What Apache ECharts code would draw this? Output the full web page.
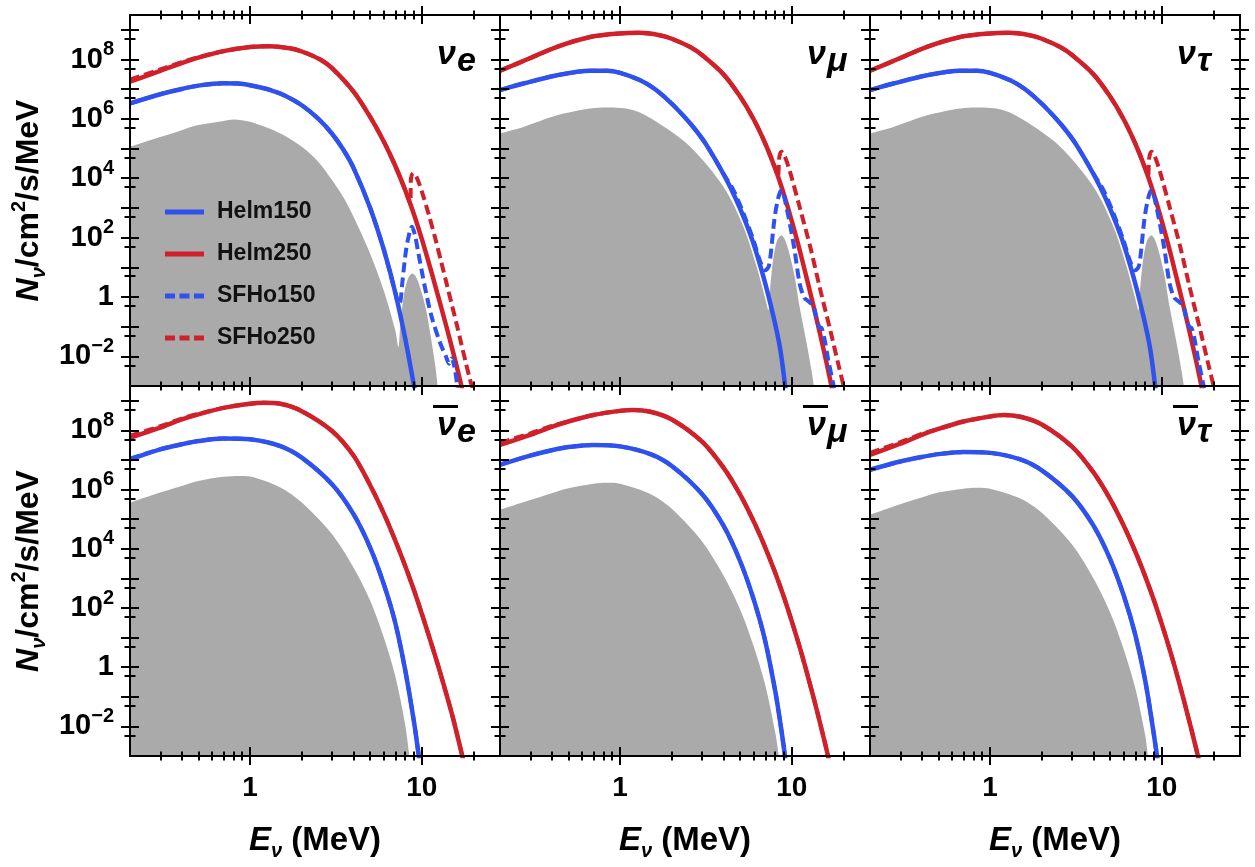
<!DOCTYPE html>
<html>
<head>
<meta charset="utf-8">
<title>neutrino spectra</title>
<script src="https://cdn.jsdelivr.net/npm/echarts@6.0.0/dist/echarts.min.js"></script>
<style>
  html, body { margin: 0; padding: 0; background: #fff; }
  #chart { width: 1255px; height: 867px; }
</style>
</head>
<body>
<div id="chart"></div>
<script>
// values: E in MeV, N in /cm^2/s/MeV

// nu_e
const nueGrayE = [0.2, 0.3, 0.4, 0.5, 0.7, 0.8, 1, 1.5, 2, 2.5, 3, 3.5, 4, 5, 6, 7, 7.3, 7.5, 7.7, 8.0, 8.4, 8.8, 9.2, 9.6, 10.5, 11.2, 12, 12.4]
const nueGray = [1.15e5, 2.45e5, 4.17e5, 6.17e5, 8.51e5, 9.55e5, 7.94e5, 3.24e5, 1.15e5, 3.55e4, 8.71e3, 2.24e3, 501, 28.8, 1.66, 0.0759, 0.0204, 0.126, 0.501, 2.0, 4.79, 6.17, 5.01, 2.82, 0.457, 0.0575, 0.00437, 0.00079]
const nueH150E = [0.2, 0.3, 0.4, 0.5, 0.7, 0.85, 1, 1.3, 1.6, 2, 2.5, 3, 3.5, 4, 5, 6, 7, 8, 9, 9.3]
const nueH150 = [3.31e6, 6.76e6, 1.02e7, 1.32e7, 1.58e7, 1.55e7, 1.35e7, 9.55e6, 6.03e6, 2.88e6, 1.0e6, 3.16e5, 8.91e4, 2.24e4, 1000, 39.8, 1.41, 0.0398, 0.001, 0.000316]
const nueH250E = [0.2, 0.3, 0.4, 0.5, 0.7, 1, 1.3, 1.7, 2, 2.56, 3, 4, 5, 6, 7, 8, 9, 10, 11, 12, 13, 14, 15, 16, 17, 17.5]
const nueH250 = [1.78e7, 4.17e7, 7.59e7, 1.15e8, 1.91e8, 2.63e8, 2.82e8, 2.40e8, 1.86e8, 1.0e8, 5.13e7, 8.32e6, 1.17e6, 1.74e5, 2.63e4, 3.98e3, 603, 89.1, 13.5, 2.24, 0.417, 0.0851, 0.0186, 0.00427, 0.001, 0.0005]
const nueS150E = [0.2, 0.3, 0.4, 0.5, 0.7, 0.85, 1, 1.3, 1.6, 2, 2.5, 3, 3.5, 4, 5, 6, 7, 7.3, 7.5, 7.7, 8.1, 8.5, 8.75, 9.1, 9.55, 10.4, 11.4, 12.8, 13.8, 14.4, 14.9, 15.4, 16.0, 16.3]
const nueS150 = [3.31e6, 6.76e6, 1.02e7, 1.32e7, 1.58e7, 1.55e7, 1.35e7, 9.55e6, 6.03e6, 2.88e6, 1.0e6, 3.16e5, 8.91e4, 2.24e4, 1000, 39.8, 1.41, 0.631, 0.708, 3.16, 39.8, 158, 234, 126, 29.5, 2.24, 0.214, 0.0275, 0.01, 0.00562, 0.00851, 0.00501, 0.00126, 0.0005]
const nueS250E = [0.2, 0.3, 0.4, 0.5, 0.7, 1, 1.3, 1.7, 2, 2.56, 3, 4, 5, 6, 7, 8, 8.55, 8.65, 8.9, 9.3, 10, 11, 12, 13, 14, 15, 16, 17, 18, 19, 20, 20.5]
const nueS250 = [2.09e7, 4.68e7, 8.13e7, 1.20e8, 1.91e8, 2.63e8, 2.82e8, 2.40e8, 1.86e8, 1.0e8, 5.13e7, 8.32e6, 1.17e6, 1.74e5, 2.63e4, 3.98e3, 1.41e3, 1.0e4, 1.48e4, 1.12e4, 3.55e3, 562, 89.1, 14.1, 2.51, 0.501, 0.112, 0.0251, 0.0063, 0.00178, 0.00063, 0.00035]

// nu_mu (the nu_tau panel reads the same)
const numuGrayE = [0.2, 0.274, 0.43, 0.67, 0.84, 1.2, 1.63, 2.56, 4.0, 5.23, 6.25, 7.0, 7.3, 7.5, 7.8, 8.2, 8.7, 9.3, 10.3, 11.1, 12.2, 13.1, 13.5]
const numuGray = [3.24e5, 5.37e5, 1.32e6, 2.24e6, 2.40e6, 1.95e6, 7.94e5, 1.15e5, 5.13e3, 229, 10, 0.891, 0.355, 2.51, 20, 79.4, 120, 63.1, 6.17, 0.457, 0.0269, 0.00263, 0.00079]
const numuH150E = [0.2, 0.274, 0.43, 0.67, 0.84, 1.0, 1.31, 1.6, 2.05, 2.6, 3.2, 4.37, 5.71, 6.84, 7.82, 8.55, 9.14, 9.3]
const numuH150 = [9.33e6, 1.55e7, 2.95e7, 4.17e7, 4.17e7, 3.55e7, 2.0e7, 1.0e7, 2.82e6, 6.31e5, 1.26e5, 5.13e3, 135, 4.68, 0.214, 0.0178, 0.001, 0.000398]
const numuH250E = [0.2, 0.3, 0.43, 0.67, 1, 1.3, 1.7, 2, 2.56, 3, 4, 5, 6, 7, 8, 9, 10, 11, 12, 13, 14, 15, 16, 17, 17.5]
const numuH250 = [4.17e7, 1.12e8, 2.69e8, 5.75e8, 7.59e8, 7.94e8, 6.61e8, 5.01e8, 2.63e8, 1.41e8, 3.16e7, 5.62e6, 9.55e5, 1.48e5, 2.14e4, 2.82e3, 355, 46.8, 6.31, 0.955, 0.158, 0.0282, 0.00525, 0.001, 0.000447]
const numuS150E = [0.2, 0.274, 0.43, 0.67, 0.84, 1.0, 1.31, 1.6, 2.05, 2.6, 3.2, 4.0, 4.57, 5.23, 5.98, 6.54, 6.99, 7.3, 7.5, 7.9, 8.3, 8.7, 9.3, 10.3, 11.1, 11.8, 12.5, 13.3, 13.9, 14.4, 14.9, 15.4, 16.3, 17.5, 17.8]
const numuS150 = [9.33e6, 1.55e7, 2.95e7, 4.17e7, 4.17e7, 3.55e7, 2.0e7, 1.0e7, 2.82e6, 6.31e5, 1.26e5, 1.41e4, 3.98e3, 646, 81.3, 15.8, 7.94, 10, 22.4, 380, 2.0e3, 3.98e3, 1.07e3, 47.9, 2.82, 0.955, 0.708, 0.501, 0.2, 0.1, 0.0891, 0.0447, 0.00741, 0.001, 0.0005]
const numuS250E = [0.2, 0.3, 0.43, 0.67, 1, 1.3, 1.7, 2, 2.56, 3, 4, 5, 6, 7, 8, 8.3, 8.45, 8.7, 9.0, 9.6, 10, 11.1, 12.8, 14.5, 16.7, 18.7, 20, 20.5]
const numuS250 = [4.17e7, 1.12e8, 2.69e8, 5.75e8, 7.59e8, 7.94e8, 6.61e8, 5.01e8, 2.63e8, 1.41e8, 3.16e7, 5.62e6, 9.55e5, 1.48e5, 2.14e4, 1.17e4, 5.01e4, 7.76e4, 6.31e4, 2.24e4, 1.0e4, 1.07e3, 47.9, 2.19, 0.0794, 0.00501, 0.001, 0.0005]

// anti nu_e
const anueGrayE = [0.2, 0.3, 0.4, 0.5, 0.7, 0.87, 1, 1.5, 2, 3, 4, 5, 6, 7, 8, 8.5, 8.7]
const anueGray = [3.63e5, 7.94e5, 1.32e6, 1.95e6, 2.69e6, 2.88e6, 2.75e6, 1.17e6, 3.63e5, 3.09e4, 2.34e3, 178, 10.2, 0.501, 0.0112, 0.00079, 0.000316]
const anueH150E = [0.2, 0.3, 0.4, 0.5, 0.7, 1, 1.5, 2, 3, 4, 5, 6, 7, 8, 9, 9.6, 9.8]
const anueH150 = [1.05e7, 2.29e7, 3.39e7, 4.37e7, 5.37e7, 5.01e7, 2.95e7, 1.20e7, 1.51e6, 1.48e5, 1.10e4, 646, 31.6, 0.794, 0.0141, 0.001, 0.000398]
const anueS150 = [1.12e7, 2.29e7, 3.39e7, 4.37e7, 5.37e7, 5.01e7, 2.95e7, 1.20e7, 1.51e6, 1.48e5, 1.10e4, 646, 31.6, 0.794, 0.0141, 0.001, 0.000398]
const anueH250E = [0.2, 0.3, 0.4, 0.5, 0.7, 1, 1.2, 1.5, 2, 3, 4, 5, 6, 7, 8, 9, 10, 11, 12, 13, 14, 15, 16, 17, 17.5]
const anueH250 = [5.62e7, 1.23e8, 2.34e8, 3.47e8, 5.75e8, 7.94e8, 8.51e8, 7.94e8, 4.47e8, 9.55e7, 1.41e7, 1.41e6, 1.58e5, 1.91e4, 2.63e3, 398, 63.1, 11.2, 2.24, 0.468, 0.105, 0.0251, 0.00562, 0.00132, 0.00063]
const anueS250 = [6.61e7, 1.38e8, 2.51e8, 3.63e8, 5.75e8, 7.94e8, 8.51e8, 7.94e8, 4.47e8, 9.55e7, 1.41e7, 1.41e6, 1.58e5, 1.91e4, 2.63e3, 398, 63.1, 11.2, 2.24, 0.468, 0.105, 0.0251, 0.00562, 0.00132, 0.00063]

// anti nu_mu
const anumuGrayE = [0.2, 0.3, 0.4, 0.5, 0.7, 0.85, 1, 1.5, 2, 3, 4, 5, 6, 7, 8, 8.4, 8.6]
const anumuGray = [2.09e5, 4.47e5, 7.59e5, 1.12e6, 1.58e6, 1.70e6, 1.58e6, 7.08e5, 2.24e5, 1.78e4, 1.26e3, 89.1, 5.01, 0.251, 0.0063, 0.001, 0.000398]
const anumuH150E = [0.2, 0.3, 0.4, 0.5, 0.7, 1, 1.5, 2, 3, 4, 5, 6, 7, 8, 8.5, 9, 9.2]
const anumuH150 = [6.92e6, 1.41e7, 2.14e7, 2.75e7, 3.24e7, 2.88e7, 1.58e7, 6.31e6, 7.08e5, 6.03e4, 3.80e3, 191, 7.59, 0.158, 0.0178, 0.00178, 0.00063]
const anumuH250E = [0.2, 0.3, 0.4, 0.5, 0.7, 1, 1.2, 1.5, 2, 3, 4, 5, 6, 7, 8, 9, 10, 11, 12, 13, 14, 15, 16, 16.5]
const anumuH250 = [3.24e7, 7.08e7, 1.32e8, 2.0e8, 3.31e8, 4.57e8, 4.90e8, 4.27e8, 2.34e8, 4.17e7, 5.50e6, 6.76e5, 8.32e4, 1.10e4, 1.55e3, 229, 34.7, 5.75, 0.977, 0.174, 0.0339, 0.00676, 0.00145, 0.00063]
const anumuS250 = [3.8e7, 7.94e7, 1.41e8, 2.0e8, 3.31e8, 4.57e8, 4.90e8, 4.27e8, 2.34e8, 4.17e7, 5.50e6, 6.76e5, 8.32e4, 1.10e4, 1.55e3, 229, 34.7, 5.75, 0.977, 0.174, 0.0339, 0.00676, 0.00145, 0.00063]

// anti nu_tau
const anutauGrayE = [0.2, 0.3, 0.4, 0.5, 0.7, 0.85, 1, 1.5, 2, 3, 4, 5, 6, 7, 8, 8.3, 8.5]
const anutauGray = [1.41e5, 3.2e5, 5.4e5, 7.9e5, 1.07e6, 1.15e6, 1.07e6, 5.0e5, 1.66e5, 1.41e4, 1.0e3, 71, 4.0, 0.2, 0.005, 0.001, 0.0005]
const anutauH150E = [0.2, 0.3, 0.4, 0.5, 0.7, 1, 1.5, 2, 3, 4, 5, 6, 7, 8, 9, 9.5, 9.7]
const anutauH150 = [4.68e6, 8.91e6, 1.26e7, 1.58e7, 1.86e7, 1.74e7, 1.05e7, 4.47e6, 6.03e5, 6.03e4, 4.47e3, 263, 12.6, 0.355, 0.00501, 0.00056, 0.00025]
const anutauH250E = [0.2, 0.3, 0.4, 0.5, 0.7, 1, 1.2, 1.5, 2, 3, 4, 5, 6, 7, 8, 9, 10, 11, 12, 13, 14, 15, 16, 16.5]
const anutauH250 = [1.48e7, 3.55e7, 7.08e7, 1.12e8, 2.0e8, 2.95e8, 3.31e8, 2.88e8, 1.58e8, 2.82e7, 3.80e6, 4.79e5, 6.03e4, 8.13e3, 1.17e3, 178, 28.2, 4.79, 0.851, 0.155, 0.0302, 0.0063, 0.00138, 0.00063]
const anutauS250 = [1.74e7, 3.98e7, 7.59e7, 1.12e8, 2.0e8, 2.95e8, 3.31e8, 2.88e8, 1.58e8, 2.82e7, 3.80e6, 4.79e5, 6.03e4, 8.13e3, 1.17e3, 178, 28.2, 4.79, 0.851, 0.155, 0.0302, 0.0063, 0.00138, 0.00063]

// axes
const xMajorTicks = [1, 10]
const xMinorTicks = [0.3, 0.4, 0.5, 0.6, 0.7, 0.8, 0.9, 2, 3, 4, 5, 6, 7, 8, 9, 20]
const yMajorTicks = [1e-2, 1e-1, 1, 10, 1e2, 1e3, 1e4, 1e5, 1e6, 1e7, 1e8, 1e9]
const yMinorTicks = [5e-3, 5e-2, 0.5, 5, 50, 500, 5e3, 5e4, 5e5, 5e6, 5e7, 5e8]
const xTickLabels = [1, 10]
const yTickLabels = [1e-2, 1, 1e2, 1e4, 1e6, 1e8]
const legendNames = ['Helm150', 'Helm250', 'SFHo150', 'SFHo250']

const FONT = '"Liberation Sans", Arial, sans-serif'
const BLUE = '#2f51ee', RED = '#d0212b', GRAY = '#aaaaaa'
const X_MIN = 0.2, X_MAX = 28.5, Y_MIN = 1e-3, Y_MAX = 3.16e9

const panels = [
  { sub: 'e', anti: false, gray: [nueGrayE, nueGray], h150: [nueH150E, nueH150], h250: [nueH250E, nueH250], s150: [nueS150E, nueS150], s250: [nueS250E, nueS250] },
  { sub: 'μ', anti: false, gray: [numuGrayE, numuGray], h150: [numuH150E, numuH150], h250: [numuH250E, numuH250], s150: [numuS150E, numuS150], s250: [numuS250E, numuS250] },
  { sub: 'τ', anti: false, gray: [numuGrayE, numuGray], h150: [numuH150E, numuH150], h250: [numuH250E, numuH250], s150: [numuS150E, numuS150], s250: [numuS250E, numuS250] },
  { sub: 'e', anti: true, gray: [anueGrayE, anueGray], h150: [anueH150E, anueH150], h250: [anueH250E, anueH250], s150: [anueH150E, anueS150], s250: [anueH250E, anueS250] },
  { sub: 'μ', anti: true, gray: [anumuGrayE, anumuGray], h150: [anumuH150E, anumuH150], h250: [anumuH250E, anumuH250], s150: [anumuH150E, anumuH150], s250: [anumuH250E, anumuS250] },
  { sub: 'τ', anti: true, gray: [anutauGrayE, anutauGray], h150: [anutauH150E, anutauH150], h250: [anutauH250E, anutauH250], s150: [anutauH150E, anutauH150], s250: [anutauH250E, anutauS250] }
]

const lefts = [130, 500, 870]
const tops = [15, 386]
const heights = [371, 370]
const W = 370

function pairs(es, vs) {
  return es.map((e, i) => [e, vs[i]])
}

function powLabel(v) {
  const p = Math.round(Math.log10(v))
  if (p === 0) return '{b|1}'
  return '{b|10}{s|' + String(p).replace('-', '−') + '}'
}

function tickAxis(isX, grid, position, values, len) {
  return {
    gridIndex: grid, type: 'log', logBase: 10,
    min: isX ? X_MIN : Y_MIN, max: isX ? X_MAX : Y_MAX,
    position: position, offset: -len / 2, z: 6, silent: true,
    axisLine: { show: false },
    axisLabel: { show: false },
    splitLine: { show: false },
    axisTick: { show: true, inside: false, length: len, customValues: values, lineStyle: { color: '#000', width: 2 } }
  }
}

const boldRich = {
  b: { fontFamily: FONT, fontSize: 29, fontWeight: 'bold', color: '#000', lineHeight: 40 },
  s: { fontFamily: FONT, fontSize: 20, fontWeight: 'bold', color: '#000', lineHeight: 19, verticalAlign: 'top' }
}
function nameRich(size) {
  return {
    i: { fontFamily: FONT, fontSize: size, fontWeight: 'bold', fontStyle: 'italic', color: '#000', lineHeight: 40 },
    u: { fontFamily: FONT, fontSize: 20, fontWeight: 'bold', fontStyle: 'italic', color: '#000', lineHeight: 27, verticalAlign: 'bottom' },
    b: { fontFamily: FONT, fontSize: size, fontWeight: 'bold', color: '#000', lineHeight: 40 },
    p: { fontFamily: FONT, fontSize: 20, fontWeight: 'bold', color: '#000', lineHeight: 19, verticalAlign: 'top' }
  }
}

const grid = [], xAxis = [], yAxis = [], series = [], graphic = []
const DASH = [10, 5]

panels.forEach((pn, k) => {
  const col = k % 3, row = Math.floor(k / 3)
  const left = lefts[col], top = tops[row]
  grid.push({ left: left, top: top, width: W, height: heights[row], show: true, borderColor: '#000', borderWidth: 2 })

  const bottomRow = row === 1, leftCol = col === 0
  xAxis.push({
    gridIndex: k, type: 'log', logBase: 10, min: X_MIN, max: X_MAX, position: 'bottom', z: 6,
    axisLine: { show: true, onZero: false, lineStyle: { color: '#000', width: 2 } },
    axisTick: { show: false }, splitLine: { show: false },
    axisLabel: bottomRow
      ? { customValues: xTickLabels, fontFamily: FONT, fontSize: 28, fontWeight: 'bold', color: '#000', lineHeight: 28, margin: 18 }
      : { show: false },
    name: bottomRow ? '{i|E}{u|ν}{b| (MeV)}' : '',
    nameLocation: 'middle', nameGap: 65,
    nameTextStyle: { rich: nameRich(33) }
  })
  xAxis.push(tickAxis(true, k, 'bottom', xMajorTicks, 18))
  xAxis.push(tickAxis(true, k, 'bottom', xMinorTicks, 9))
  xAxis.push(tickAxis(true, k, 'top', xMajorTicks, 18))
  xAxis.push(tickAxis(true, k, 'top', xMinorTicks, 9))

  yAxis.push({
    gridIndex: k, type: 'log', logBase: 10, min: Y_MIN, max: Y_MAX, position: 'left', z: 6,
    axisLine: { show: true, onZero: false, lineStyle: { color: '#000', width: 2 } },
    axisTick: { show: false }, splitLine: { show: false },
    axisLabel: leftCol
      ? { customValues: yTickLabels, formatter: powLabel, rich: boldRich, margin: 16 }
      : { show: false },
    name: leftCol ? '{i|N}{u|ν}{b|/cm}{p|2}{b|/s/MeV}' : '',
    nameLocation: 'middle', nameRotate: 90, nameGap: 81,
    nameTextStyle: { rich: nameRich(32) }
  })
  yAxis.push(tickAxis(false, k, 'left', yMajorTicks, 18))
  yAxis.push(tickAxis(false, k, 'left', yMinorTicks, 11))
  yAxis.push(tickAxis(false, k, 'right', yMajorTicks, 18))
  yAxis.push(tickAxis(false, k, 'right', yMinorTicks, 11))

  const xi = k * 5, yi = k * 5
  series.push({
    type: 'line', name: 'gray', xAxisIndex: xi, yAxisIndex: yi, silent: true, z: 1,
    data: pairs(pn.gray[0], pn.gray[1]), symbol: 'none', smooth: 0.3,
    lineStyle: { width: 0 }, itemStyle: { color: GRAY },
    areaStyle: { color: GRAY, opacity: 1, origin: 'start' }
  })
  const lines = [
    ['Helm150', pn.h150, BLUE, 'solid', 4.5, 2],
    ['Helm250', pn.h250, RED, 'solid', 4.5, 2],
    ['SFHo150', pn.s150, BLUE, DASH, 4, 3],
    ['SFHo250', pn.s250, RED, DASH, 4, 3]
  ]
  lines.forEach(([name, d, color, type, width, z]) => {
    series.push({
      type: 'line', name: name, xAxisIndex: xi, yAxisIndex: yi, z: z,
      data: pairs(d[0], d[1]), symbol: 'none', smooth: 0.3,
      lineStyle: { color: color, width: width, type: type }, itemStyle: { color: color }
    })
  })

  // flavour label in the upper right corner
  const lx = left + 307, ly = top
  graphic.push({ type: 'text', x: lx, y: ly + 40, style: { text: 'ν', font: 'italic bold 34px ' + FONT, fill: '#000', verticalAlign: 'middle' } })
  graphic.push({ type: 'text', x: lx + 20, y: ly + 47, style: { text: pn.sub, font: 'italic bold 34px ' + FONT, fill: '#000', verticalAlign: 'middle' } })
  if (pn.anti) {
    graphic.push({ type: 'rect', shape: { x: lx - 4, y: ly + 19, width: 25, height: 3 }, style: { fill: '#000' } })
  }
})

const DASH_ICON = 'path://M0,0h10v5h-10z M14.5,0h10v5h-10z M29,0h10v5h-10z'

const chart = echarts.init(document.getElementById('chart'))
chart.setOption({
  animation: false,
  backgroundColor: '#fff',
  textStyle: { fontFamily: FONT },
  grid: grid, xAxis: xAxis, yAxis: yAxis, series: series, graphic: graphic,
  legend: {
    orient: 'vertical', left: 165, top: 200, padding: 0,
    itemWidth: 39, itemHeight: 5, itemGap: 18, selectedMode: false,
    textStyle: { fontFamily: FONT, fontSize: 23, fontWeight: 'bold', color: '#111', lineHeight: 24, padding: [0, 0, 0, 8] },
    data: [
      { name: legendNames[0], icon: 'rect' },
      { name: legendNames[1], icon: 'rect' },
      { name: legendNames[2], icon: DASH_ICON },
      { name: legendNames[3], icon: DASH_ICON }
    ]
  }
})
</script>
</body>
</html>
